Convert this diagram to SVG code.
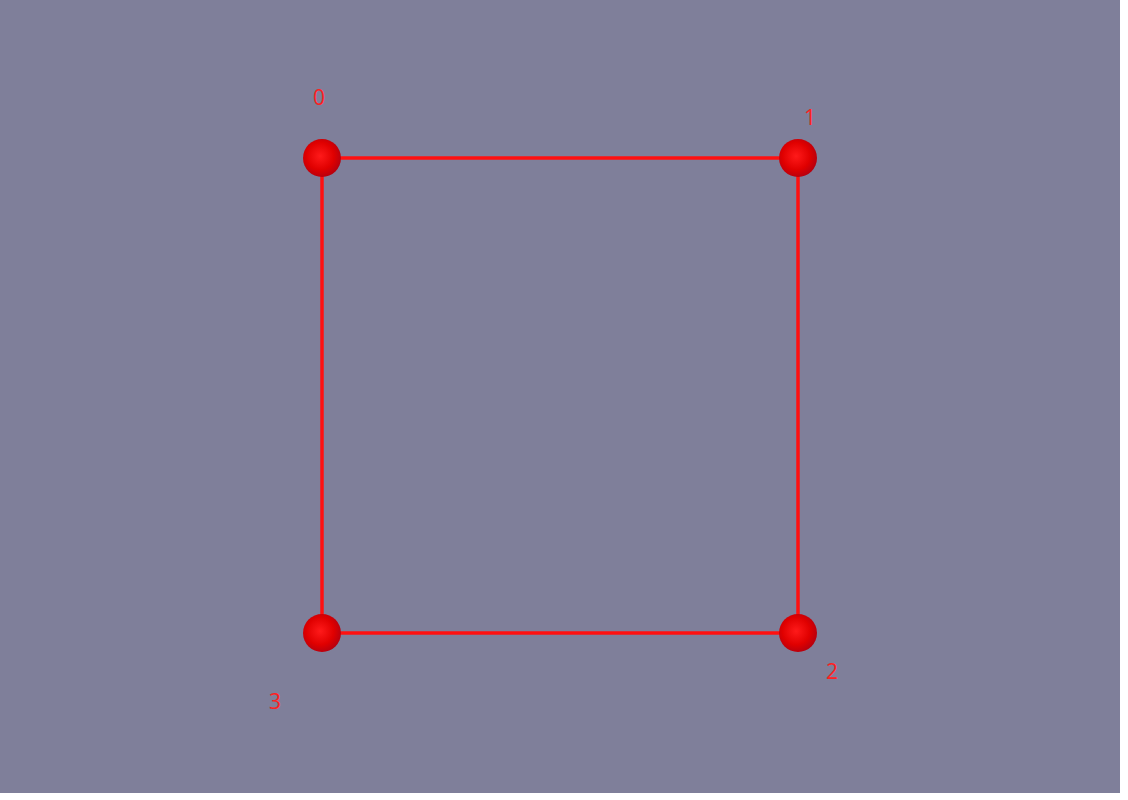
<svg xmlns="http://www.w3.org/2000/svg" width="1128" height="800" viewBox="0 0 1128 800">
<defs>
<radialGradient id="ball" cx="0.45" cy="0.45" r="0.6">
<stop offset="0" stop-color="#ff1a1a"/>
<stop offset="0.6" stop-color="#e00000"/>
<stop offset="1" stop-color="#b00010"/>
</radialGradient>
<style>
.edge{stroke:#ff1010;stroke-width:3.5;fill:none}
.node{fill:url(#ball)}
.lbl{font-family:"Open Sans","Liberation Sans",sans-serif;font-size:21px;fill:#ff2020;text-anchor:middle}
</style>
</defs>
<rect x="0" y="0" width="1128" height="800" fill="#ffffff"/>
<rect x="0" y="0" width="1120" height="793" fill="#7f7f9a"/>
<g id="connectors">
<line class="edge" x1="322" y1="158" x2="798" y2="158"/>
<line class="edge" x1="798" y1="158" x2="798" y2="633"/>
<line class="edge" x1="798" y1="633" x2="322" y2="633"/>
<line class="edge" x1="322" y1="633" x2="322" y2="158"/>
</g>
<g id="node0"><circle class="node" cx="322" cy="158" r="19"/><text class="lbl" x="319" y="105">0</text></g>
<g id="node1"><circle class="node" cx="798" cy="158" r="19"/><text class="lbl" x="810" y="125">1</text></g>
<g id="node2"><circle class="node" cx="798" cy="633" r="19"/><text class="lbl" x="832" y="679">2</text></g>
<g id="node3"><circle class="node" cx="322" cy="633" r="19"/><text class="lbl" x="275" y="709">3</text></g>
</svg>
